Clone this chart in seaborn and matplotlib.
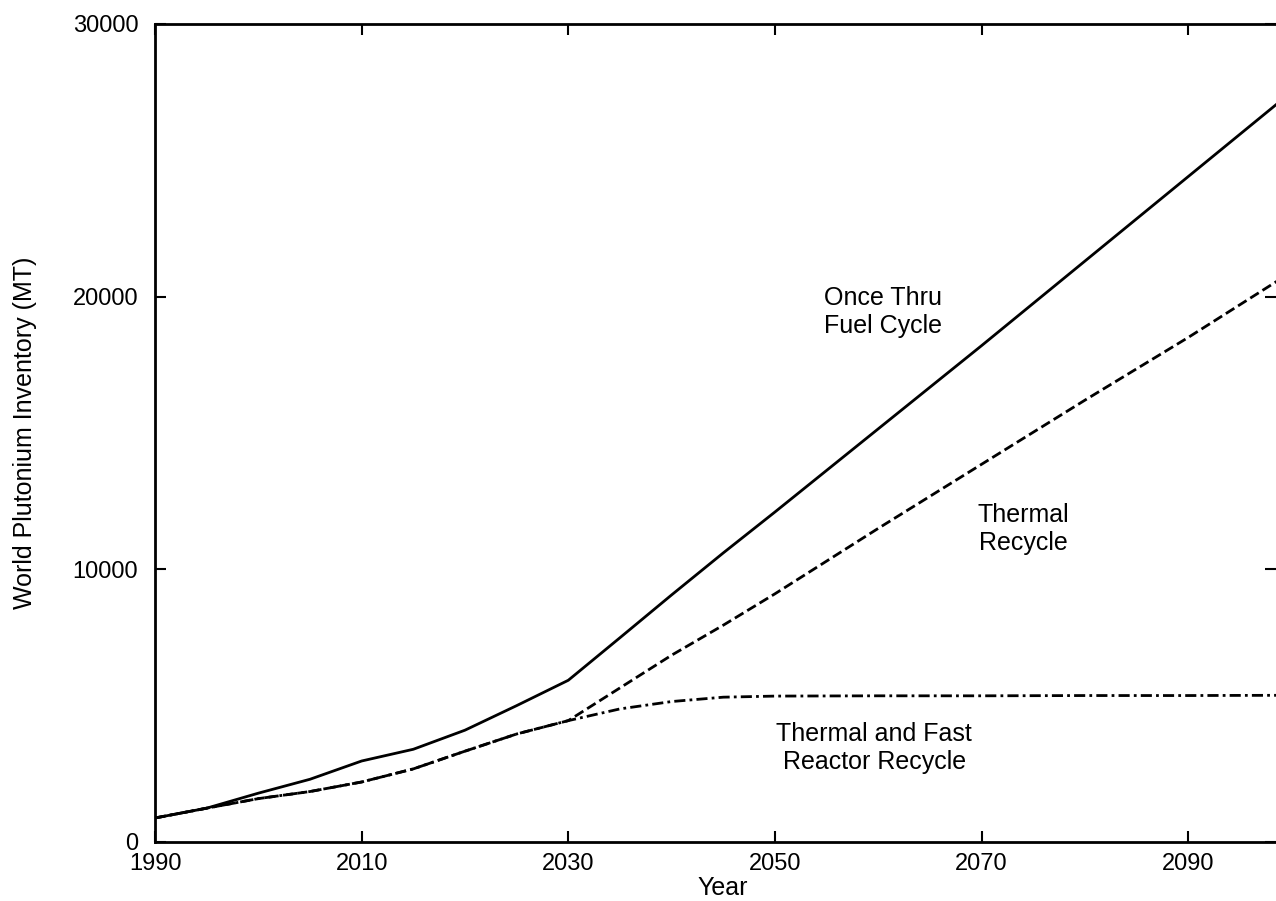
import matplotlib
matplotlib.use("Agg")
import matplotlib.pyplot as plt
import pandas as pd
import seaborn as sns

FONTSIZE = 17
LABELSIZE = 18

years = [1990, 1995, 2000, 2005, 2010, 2015, 2020, 2025, 2030,
         2035, 2040, 2045, 2050, 2060, 2070, 2080, 2090, 2100]

# Once-through fuel cycle (MT)
once_thru = [880, 1240, 1790, 2300, 2970, 3400, 4100, 5000, 5930,
             7490, 9060, 10600, 12100, 15150, 18200, 21300, 24400, 27500]

# Thermal recycle (MT)
thermal = [880, 1240, 1590, 1850, 2200, 2680, 3330, 3960, 4450,
           5650, 6850, 7950, 9100, 11500, 13850, 16200, 18500, 20900]

# Thermal and fast reactor recycle (MT)
fast = [880, 1240, 1590, 1850, 2200, 2680, 3330, 3960, 4450,
        4880, 5150, 5310, 5350, 5360, 5360, 5370, 5370, 5380]

cases = ["Once Thru", "Thermal", "Fast"]
x_ticks = [1990, 2010, 2030, 2050, 2070, 2090]
y_ticks = [0, 10000, 20000, 30000]

df = pd.DataFrame({
    "Year": years * 3,
    "Inventory": once_thru + thermal + fast,
    "Case": [c for c in cases for _ in years],
})

sns.set_theme(style="ticks")
plt.rcParams["font.family"] = ["Liberation Sans", "DejaVu Sans"]
plt.rcParams["text.color"] = "black"
plt.rcParams["axes.labelcolor"] = "black"
plt.rcParams["xtick.color"] = "black"
plt.rcParams["ytick.color"] = "black"

fig = plt.figure(figsize=(12.76, 9.01), dpi=100)
ax = fig.add_axes([0.1215, 0.0655, 0.8785, 0.908])

sns.lineplot(
    data=df,
    x="Year",
    y="Inventory",
    hue="Case",
    style="Case",
    palette={c: "black" for c in cases},
    dashes={"Once Thru": "", "Thermal": (3.6, 1.6), "Fast": (4, 1.5, 1, 1.5)},
    linewidth=2.0,
    legend=False,
    ax=ax,
)

ax.set_xlim(1990, 2098.5)
ax.set_ylim(0, 30000)
ax.set_xticks(x_ticks)
ax.set_yticks(y_ticks)
ax.tick_params(axis="both", direction="in", top=True, right=True,
               length=8, width=1.5, labelsize=FONTSIZE, color="black")
ax.tick_params(axis="x", pad=8)
ax.tick_params(axis="y", pad=12)
for name, sp in ax.spines.items():
    sp.set_linewidth(2.0)
    sp.set_color("black")
ax.spines["right"].set_visible(False)

ax.set_xlabel("Year", fontsize=LABELSIZE)
ax.set_ylabel("World Plutonium Inventory (MT)", fontsize=LABELSIZE)
ax.xaxis.set_label_coords((723 - 155) / (1276 - 155), -0.042)
ax.yaxis.set_label_coords(-0.105, 0.5)

ax.text(2060.5, 19430, "Once Thru\nFuel Cycle", fontsize=LABELSIZE,
        ha="center", va="center", linespacing=1.2)
ax.text(2074.0, 11480, "Thermal\nRecycle", fontsize=LABELSIZE,
        ha="center", va="center", linespacing=1.2)
ax.text(2059.6, 3450, "Thermal and Fast\nReactor Recycle", fontsize=LABELSIZE,
        ha="center", va="center", linespacing=1.2)

fig.savefig("out.png", dpi=100, facecolor="white")
